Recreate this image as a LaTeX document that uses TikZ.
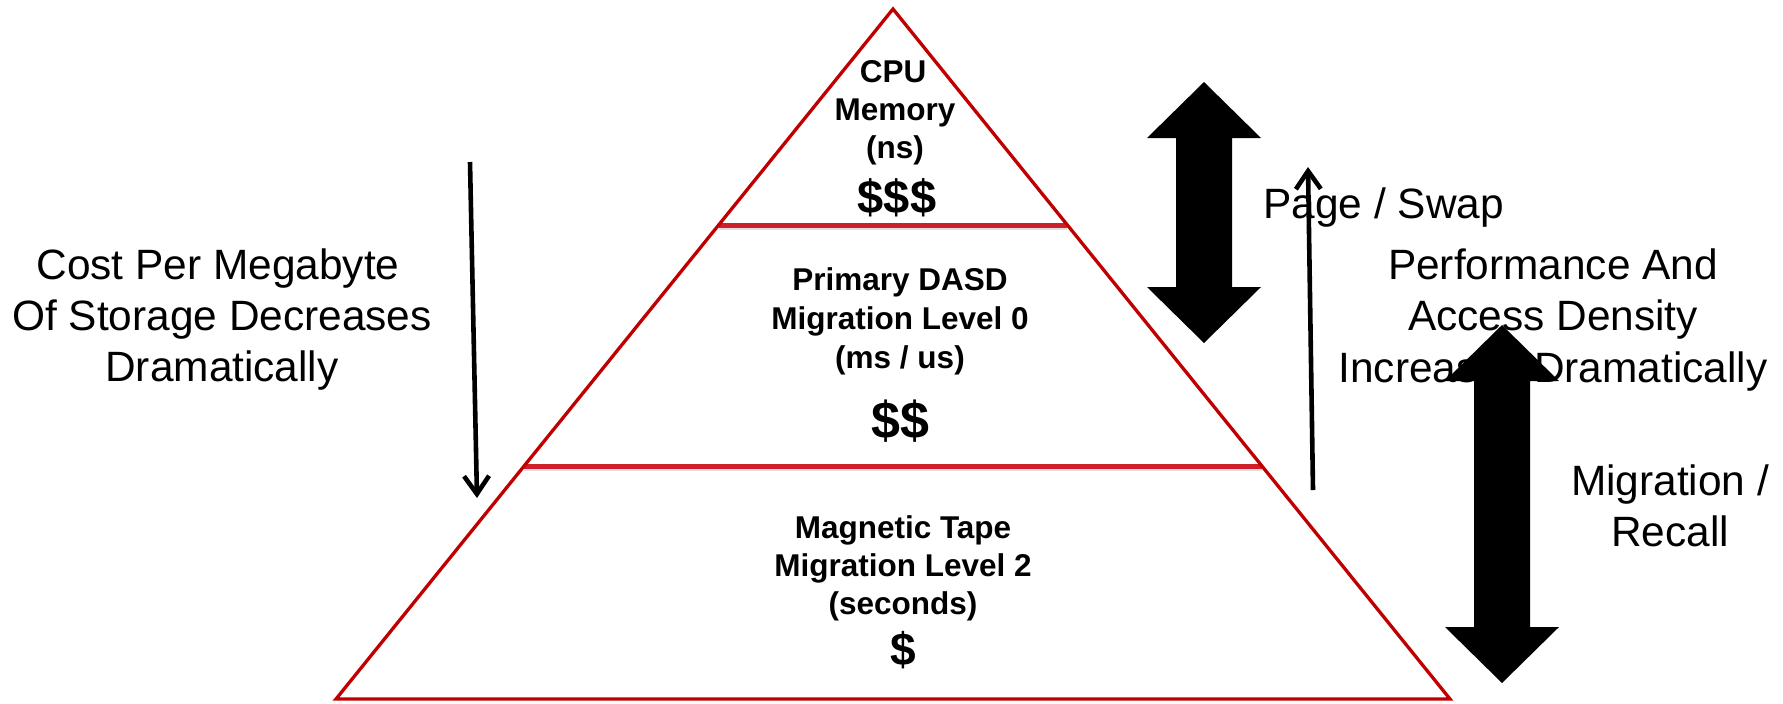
\documentclass[tikz,border=0pt]{standalone}
\usepackage{fontspec}
\setmainfont{Liberation Sans}
\usetikzlibrary{arrows.meta}
\definecolor{pyrred}{RGB}{192,0,0}
\definecolor{tierred}{RGB}{206,32,42}
\begin{document}
\begin{tikzpicture}[x=0.5pt,y=-0.5pt,
  tierlabel/.style={anchor=base,inner sep=0pt,font=\fontsize{15.75}{18}\selectfont\bfseries},
  costlabel/.style={anchor=base,inner sep=0pt,font=\fontsize{26}{30}\selectfont\bfseries},
  sidelabel/.style={anchor=base,inner sep=0pt,font=\fontsize{21.2}{25}\selectfont},
  thinarrow/.style={line width=2.3pt,-{Straight Barb[length=9pt,width=12.5pt]}},
  bigarrow/.style={fill=black},
  pyramid/.style={draw=pyrred,line width=1.65pt,line join=miter},
  tierline/.style={draw=tierred,line width=2.5pt},
  tiershadow/.style={draw=black!25,line width=2pt,opacity=0.5}]
\useasboundingbox (0,0) rectangle (1783,703);

% pyramid corners
\coordinate (apex) at (893,9);
\coordinate (baseL) at (336,699);
\coordinate (baseR) at (1450,699);
\coordinate (t1L) at (719,225);
\coordinate (t1R) at (1067,225);
\coordinate (t2L) at (524,466);
\coordinate (t2R) at (1262,466);

% tier separators with a soft shadow
\draw[tiershadow] ([yshift=-1.6pt]t1L) -- ([yshift=-1.6pt]t1R);
\draw[tiershadow] ([yshift=-1.6pt]t2L) -- ([yshift=-1.6pt]t2R);
\draw[tierline] (t1L) -- (t1R);
\draw[tierline] (t2L) -- (t2R);

% outline
\draw[pyramid] (baseL) -- (apex) -- (baseR) -- cycle;

% top tier
\node[tierlabel] (cpu) at (893,82) {CPU};
\node[tierlabel] (mem) at (895,120) {Memory};
\node[tierlabel] (ns) at (895,158) {(ns)};
\node[costlabel,font=\fontsize{23.5}{28}\selectfont\bfseries] (c3) at (897,213) {\$\$\$};

% middle tier
\node[tierlabel] (dasd) at (900,290) {Primary DASD};
\node[tierlabel] (ml0) at (900,329) {Migration Level 0};
\node[tierlabel] (msus) at (900,368) {(ms / us)};
\node[costlabel] (c2) at (900,438) {\$\$};

% bottom tier
\node[tierlabel] (tape) at (903,538) {Magnetic Tape};
\node[tierlabel] (ml2) at (903,576) {Migration Level 2};
\node[tierlabel] (secs) at (903,614) {(seconds)};
\node[costlabel,font=\fontsize{23}{28}\selectfont\bfseries] (c1) at (903,665) {\$};

% cost label and arrow on the left
\node[sidelabel] (cost1) at (218,279) {Cost Per Megabyte};
\node[sidelabel] (cost2) at (222,330) {Of Storage Decreases};
\node[sidelabel] (cost3) at (222,381) {Dramatically};
\coordinate (costTop) at (470,162);
\coordinate (costBot) at (477,498);
\draw[thinarrow] (costTop) -- (costBot);

% performance labels on the right
\node[sidelabel,anchor=base west] (page) at (1263,218) {Page / Swap};
\node[sidelabel] (perf1) at (1553,279) {Performance And};
\node[sidelabel] (perf2) at (1553,330) {Access Density};
\node[sidelabel] (perf3) at (1553,382) {Increases Dramatically};
\node[sidelabel] (mig1) at (1670,495) {Migration /};
\node[sidelabel] (mig2) at (1670,546) {Recall};

\coordinate (perfBot) at (1313,490);
\coordinate (perfTop) at (1308,167);
\draw[thinarrow] (perfBot) -- (perfTop);

% block double arrows
\fill[bigarrow] (1204,82) -- (1261,138) -- (1232,138) -- (1232,287) -- (1261,287)
  -- (1204,343) -- (1147,287) -- (1176,287) -- (1176,138) -- (1147,138) -- cycle;
\fill[bigarrow] (1502,325) -- (1559,381) -- (1530,381) -- (1530,627) -- (1559,627)
  -- (1502,683) -- (1445,627) -- (1474,627) -- (1474,381) -- (1445,381) -- cycle;
\end{tikzpicture}
\end{document}
